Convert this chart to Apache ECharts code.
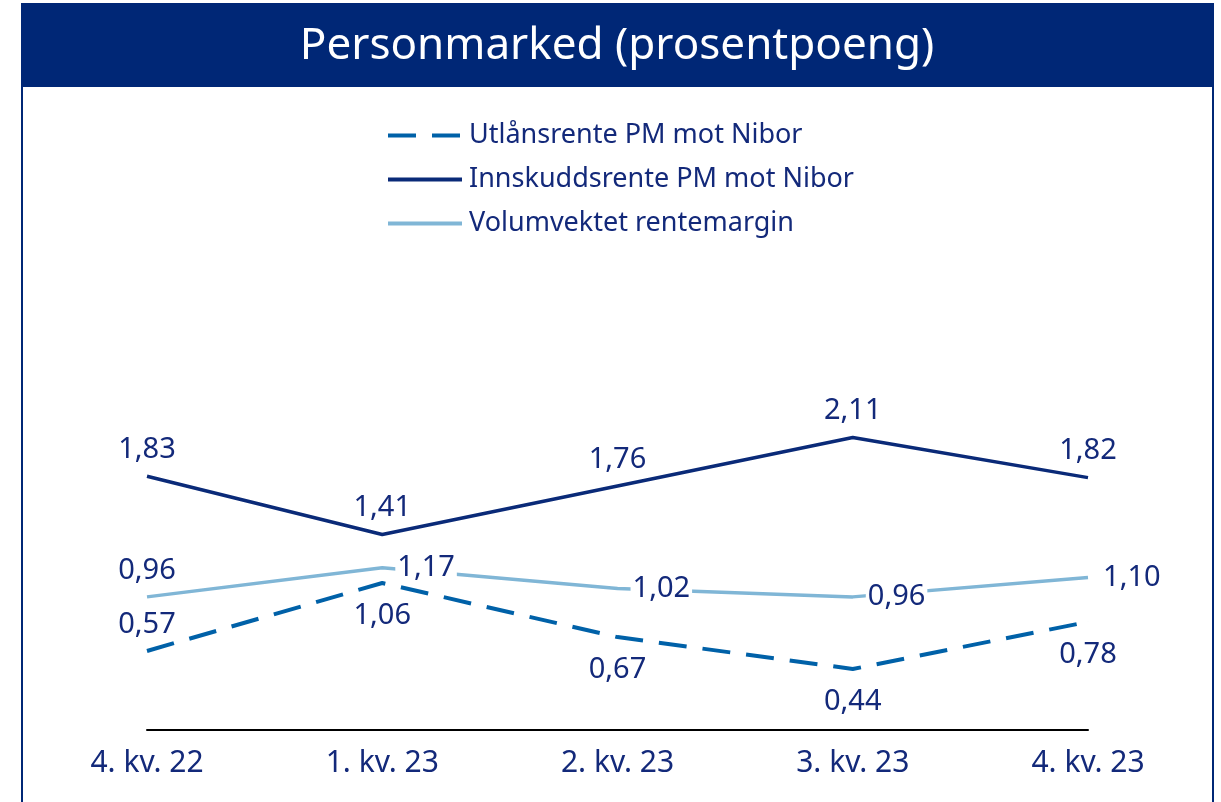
<!DOCTYPE html>
<html>
<head>
<meta charset="utf-8">
<script src="https://cdn.jsdelivr.net/npm/echarts@6/dist/echarts.min.js"></script>
<style>
    html, body { margin: 0; padding: 0; background: #fff; }
    #chart { width: 1221px; height: 802px; }
</style>
</head>
<body>
<div id="chart"></div>
<script>
const quarters = ['4. kv. 22', '1. kv. 23', '2. kv. 23', '3. kv. 23', '4. kv. 23'];
const utlaan = [0.57, 1.06, 0.67, 0.44, 0.78];
const innskudd = [1.83, 1.41, 1.76, 2.11, 1.82];
const volumvektet = [0.96, 1.17, 1.02, 0.96, 1.10];

const NAVY = '#002776';
const TEXT = '#13297a';
const FONT = '"Noto Sans", sans-serif';

const fmt = p => p.value.toFixed(2).replace('.', ',');

const labelStyle = {
    show: true,
    formatter: fmt,
    color: TEXT,
    fontSize: 29,
    fontFamily: FONT,
    distance: 12
};

// first point gets its own position, the rest share another one
function labelled(values, firstPos, restPos, extra = {}) {
    return values.map((v, i) => ({
        value: v,
        label: Object.assign({}, labelStyle, { position: i === 0 ? firstPos : restPos }, i === 0 ? {} : extra)
    }));
}

const chart = echarts.init(document.getElementById('chart'));

chart.setOption({
    animation: false,
    textStyle: { fontFamily: FONT },
    graphic: [
        {
            type: 'rect',
            shape: { x: 22, y: 4, width: 1191, height: 830 },
            style: { fill: 'none', stroke: NAVY, lineWidth: 2 },
            silent: true
        },
        {
            type: 'rect',
            shape: { x: 22, y: 4, width: 1191, height: 83 },
            style: { fill: NAVY },
            silent: true
        },
        {
            type: 'text',
            x: 617,
            y: 46,
            style: {
                text: 'Personmarked (prosentpoeng)',
                fill: '#fff',
                fontSize: 44,
                fontFamily: FONT,
                align: 'center',
                verticalAlign: 'middle'
            },
            silent: true
        }
    ],
    legend: {
        orient: 'vertical',
        left: 381,
        top: 117,
        itemWidth: 74,
        itemHeight: 20,
        itemGap: 17,
        itemStyle: { opacity: 0 },
        lineStyle: { width: 4 },
        textStyle: { color: TEXT, fontSize: 27, fontFamily: FONT, padding: [0, 0, 0, 2] },
        data: ['Utlånsrente PM mot Nibor', 'Innskuddsrente PM mot Nibor', 'Volumvektet rentemargin']
    },
    grid: { left: 147, right: 133, top: 314, bottom: 72 },
    xAxis: {
        type: 'category',
        data: quarters,
        boundaryGap: false,
        axisLine: { lineStyle: { color: '#000', width: 2 } },
        axisTick: { show: false },
        axisLabel: { color: TEXT, fontSize: 30, fontFamily: FONT, margin: 18 }
    },
    yAxis: {
        type: 'value',
        min: 0,
        max: 3,
        show: false,
        splitLine: { show: false }
    },
    series: [
        {
            name: 'Utlånsrente PM mot Nibor',
            type: 'line',
            symbol: 'circle',
            symbolSize: 0.1,
            z: 3,
            data: labelled(utlaan, 'top', 'bottom', { distance: 18 }),
            lineStyle: { color: '#0061a8', width: 4, type: [28, 16] },
            itemStyle: { color: '#0061a8' }
        },
        {
            name: 'Innskuddsrente PM mot Nibor',
            type: 'line',
            symbol: 'circle',
            symbolSize: 0.1,
            data: labelled(innskudd, 'top', 'top'),
            lineStyle: { color: '#0a2a78', width: 3.5 },
            itemStyle: { color: '#0a2a78' }
        },
        {
            name: 'Volumvektet rentemargin',
            type: 'line',
            symbol: 'circle',
            symbolSize: 0.1,
            z: 4,
            data: labelled(volumvektet, 'top', 'right', {
                backgroundColor: '#fff',
                padding: [0, 2],
                distance: 13
            }),
            lineStyle: { color: '#80b6d6', width: 3.5 },
            itemStyle: { color: '#80b6d6' }
        }
    ]
});
</script>
</body>
</html>
